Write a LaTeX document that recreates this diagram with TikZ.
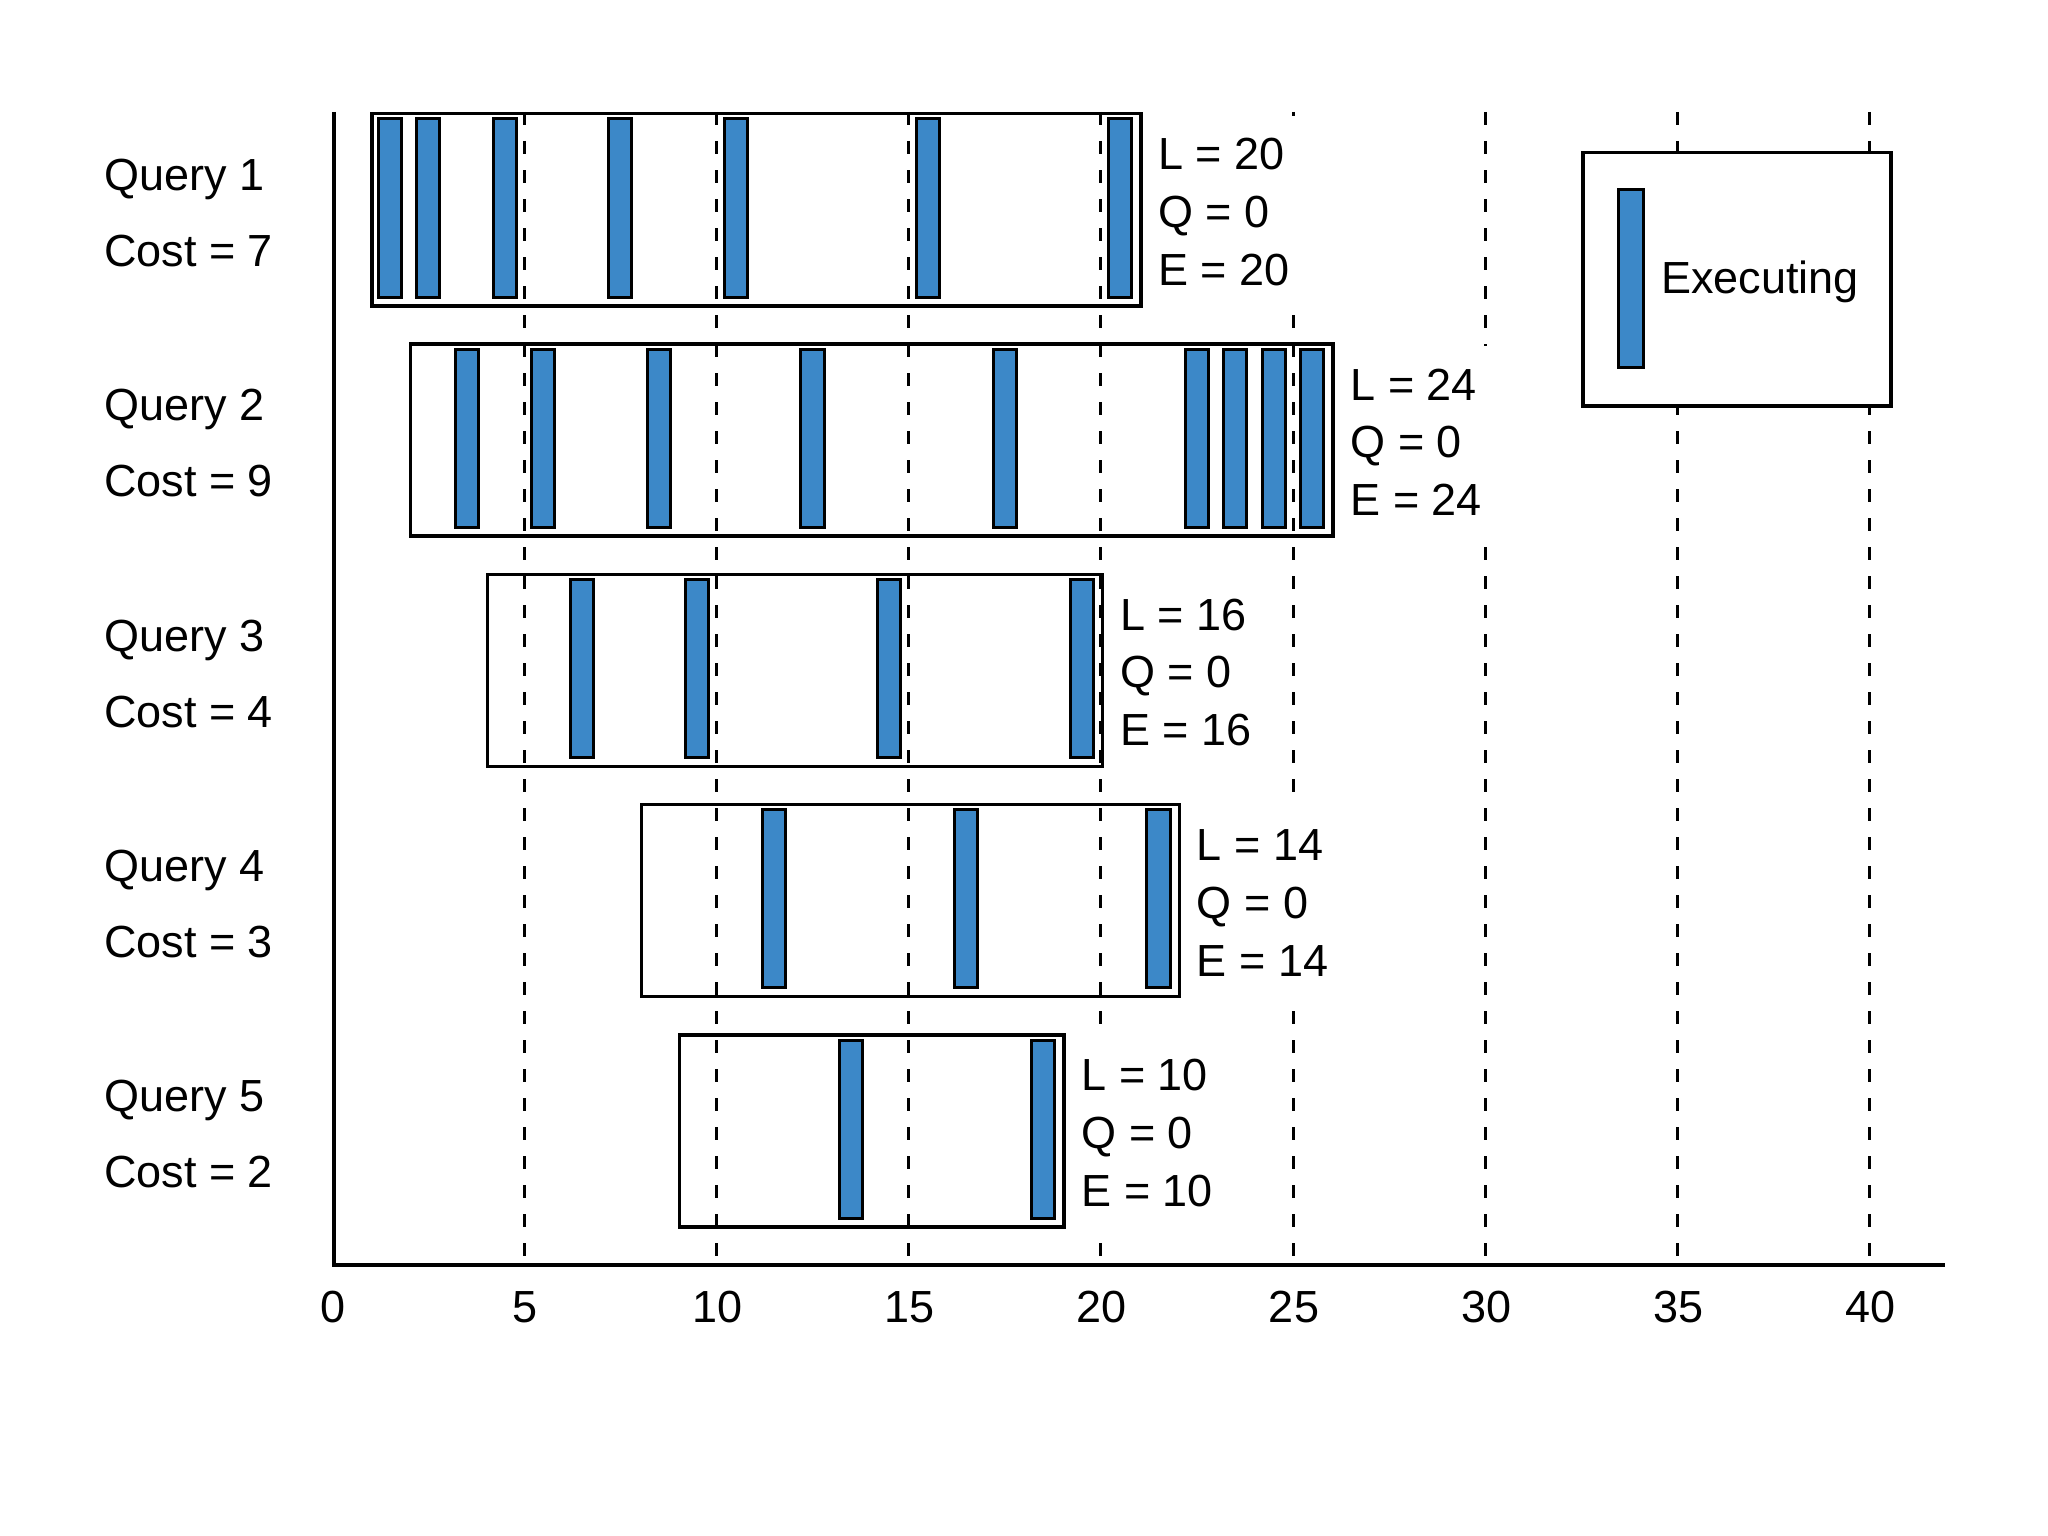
\documentclass[tikz,border=0pt]{standalone}
\usepackage{fontspec}
\setmainfont{Liberation Sans}
\definecolor{barblue}{RGB}{60,136,200}
\begin{document}
\begin{tikzpicture}[x=1pt,y=-1pt,
  every node/.style={font=\fontsize{45}{57.8}\selectfont, inner sep=0pt},
  dashline/.style={line width=3pt, dash pattern=on 13pt off 16pt},
  qbox/.style={draw, line width=3.5pt, minimum height=192pt, anchor=north west},
  bar/.style={draw, line width=3pt, fill=barblue},
  lab/.style={fill=white, align=left, anchor=west, minimum height=192pt, inner xsep=17pt, yshift=-4pt},
  txt/.style={anchor=base west},
]
\useasboundingbox (0,0) rectangle (2048,1536);
\fill[white] (0,0) rectangle (2048,1536);

% dashed grid lines
\foreach \k in {5,10,...,40} {
  \coordinate (dt\k) at ({332+38.44*\k},112);
  \coordinate (db\k) at ({332+38.44*\k},1265);
  \draw[dashline] (dt\k) -- (db\k);
}

% axes
\coordinate (ytop) at (334,112);
\coordinate (o) at (334,1265);
\coordinate (xend) at (1945,1265);
\draw[line width=3.6pt] (ytop) -- (o) -- (xend);

% tick labels
\foreach \k in {0,5,...,40} {
  \node[anchor=base] (t\k) at ({333+38.44*\k},1322) {\k};
}

% query rows: index / start / end / L / cost
\foreach \i/\s/\e/\L/\c in {1/1/21/20/7, 2/2/26/24/9, 3/4/20/16/4, 4/8/22/14/3, 5/9/19/10/2} {
  \pgfmathsetmacro{\T}{112+230.25*(\i-1)}
  \pgfmathsetmacro{\C}{\T+96}
  \node[lab] (e\i) at ({332+38.44*\e+2},\C) {L = \L\\Q = 0\\E = \L};
  \node[qbox, minimum width={38.44*(\e-\s)}] (q\i) at ({332+38.44*\s},\T) {};
  \node[txt] (qn\i) at (104,{\C-17.5}) {Query \i};
  \node[txt] (qc\i) at (104,{\C+58.5}) {Cost = \c};
}

% executing bars: row / start time
\foreach \i/\n in {1/1,1/2,1/4,1/7,1/10,1/15,1/20,
                   2/3,2/5,2/8,2/12,2/17,2/22,2/23,2/24,2/25,
                   3/6,3/9,3/14,3/19,
                   4/11,4/16,4/21,
                   5/13,5/18} {
  \pgfmathsetmacro{\T}{112+230.25*(\i-1)}
  \draw[bar] ({332+38.44*(\n+0.2)},{\T+7}) rectangle ({332+38.44*(\n+0.8)},{\T+185});
}

% legend
\node[draw, line width=3.5pt, fill=white, minimum width=308pt, minimum height=253pt, anchor=north west] (leg) at (1581,151) {};
\draw[bar] (1618,189) rectangle (1643,367);
\node[txt] (legtxt) at (1661,293) {Executing};
\end{tikzpicture}
\end{document}
